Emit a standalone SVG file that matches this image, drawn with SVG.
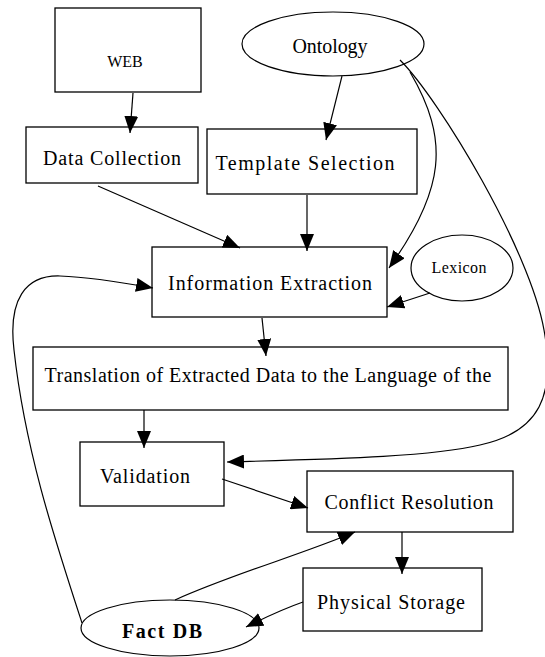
<svg xmlns="http://www.w3.org/2000/svg" width="545" height="657" viewBox="0 0 545 657">
<defs>
<marker id="arr" markerUnits="userSpaceOnUse" markerWidth="18" markerHeight="14" refX="17" refY="7" orient="auto">
<path d="M0,0 L17,7 L0,14 z" fill="#000"/>
</marker>
<style>
.box{fill:#fff;stroke:#000;stroke-width:1.3}
.ell{fill:#fff;stroke:#000;stroke-width:1.2}
.t{font-family:"Liberation Serif","Times New Roman",serif;font-size:20px;fill:#000;text-anchor:middle}
.s{font-size:16px}
.b{font-weight:bold}
.c{fill:none;stroke:#000;stroke-width:1.2;marker-end:url(#arr)}
</style>
</defs>
<rect width="545" height="657" fill="#fff"/>
<g id="web"><rect class="box" x="55" y="8" width="146" height="84"/><text class="t s" x="125" y="67">WEB</text></g>
<g id="ontology"><ellipse class="ell" cx="333" cy="44" rx="91" ry="32"/><text class="t" x="330" y="53" font-size="19" textLength="75" lengthAdjust="spacing">Ontology</text></g>
<g id="data-collection"><rect class="box" x="26" y="127" width="172" height="56"/><text class="t" x="112" y="165" textLength="138" lengthAdjust="spacing">Data Collection</text></g>
<g id="template-selection"><rect class="box" x="207" y="129" width="210" height="65"/><text class="t" x="305" y="170" textLength="179" lengthAdjust="spacing">Template Selection</text></g>
<g id="information-extraction"><rect class="box" x="152" y="247" width="235" height="70"/><text class="t" x="270" y="290" textLength="204" lengthAdjust="spacing">Information Extraction</text></g>
<g id="lexicon"><ellipse class="ell" cx="462" cy="268" rx="51" ry="33"/><text class="t s" x="459" y="273" textLength="55" lengthAdjust="spacing">Lexicon</text></g>
<g id="translation"><rect class="box" x="33" y="347" width="475" height="63"/><text class="t" x="268" y="382" font-size="19" textLength="447" lengthAdjust="spacing">Translation of Extracted Data to the Language of the</text></g>
<g id="validation"><rect class="box" x="80" y="442" width="144" height="64"/><text class="t" x="145" y="483" textLength="90" lengthAdjust="spacing">Validation</text></g>
<g id="conflict-resolution"><rect class="box" x="307" y="471" width="206" height="61"/><text class="t" x="409" y="509" textLength="169" lengthAdjust="spacing">Conflict Resolution</text></g>
<g id="physical-storage"><rect class="box" x="303" y="568" width="179" height="63"/><text class="t" x="391" y="609" textLength="148" lengthAdjust="spacing">Physical Storage</text></g>
<g id="fact-db"><ellipse class="ell" cx="170" cy="628" rx="89" ry="28"/><text class="t b" x="162" y="638" textLength="80" lengthAdjust="spacing">Fact DB</text></g>
<g id="connectors">
<path class="c" d="M133,93 L130,133"/>
<path class="c" d="M342,76 L326,140"/>
<path class="c" d="M98,186 L240,248"/>
<path class="c" d="M307,195 L307,251"/>
<path class="c" d="M410,72 C450,140 445,190 389,268"/>
<path class="c" d="M430,293 L387,307"/>
<path class="c" d="M400,60 C440,100 530,250 544,330 C556,395 540,432 480,445 C430,457 330,459 227,462"/>
<path class="c" d="M262,318 L266,356"/>
<path class="c" d="M144,410 L144,448"/>
<path class="c" d="M222,479 L308,508"/>
<path class="c" d="M402,532 L402,574"/>
<path class="c" d="M303,602 Q280,610 246,627"/>
<path class="c" d="M175,600 C230,575 300,555 355,532"/>
<path class="c" d="M82,623 C55,540 25,450 14,350 C8,300 25,275 60,276 C90,277 120,282 153,288"/>
</g>
</svg>
